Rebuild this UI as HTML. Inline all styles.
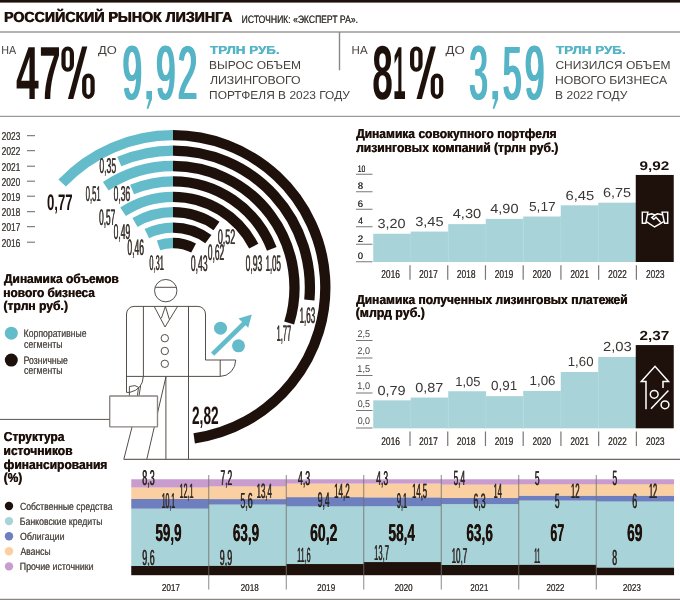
<!DOCTYPE html>
<html><head><meta charset="utf-8"><title>Российский рынок лизинга</title>
<style>
html,body{margin:0;padding:0;background:#fff;}
body{width:680px;height:600px;overflow:hidden;}
svg{display:block;will-change:transform;}
text{font-family:"Liberation Sans",sans-serif;text-rendering:geometricPrecision;}
</style></head><body>
<svg width="680" height="600" viewBox="0 0 680 600">
<rect width="680" height="600" fill="#fff"/>
<rect x="0.00" y="0.00" width="680.00" height="2.60" fill="#1e110b"/>
<line x1="0.00" y1="32.00" x2="680.00" y2="32.00" stroke="#9c9a98" stroke-width="1.30"/>
<line x1="0.00" y1="116.30" x2="680.00" y2="116.30" stroke="#9c9a98" stroke-width="1.30"/>
<line x1="339.50" y1="32.00" x2="339.50" y2="70.30" stroke="#8a8886" stroke-width="1.40"/>
<text transform="translate(3.78,22.40) scale(0.1417,0.1464)" font-size="100" fill="#1e110b" font-weight="bold">РОССИЙСКИЙ РЫНОК ЛИЗИНГА</text>
<text transform="translate(4.58,22.40) scale(0.1417,0.1464)" font-size="100" fill="#1e110b" font-weight="bold">РОССИЙСКИЙ РЫНОК ЛИЗИНГА</text>
<text transform="translate(241.61,22.80) scale(0.0858,0.1087)" font-size="100" fill="#3d3936">ИСТОЧНИК: «ЭКСПЕРТ РА».</text>
<text transform="translate(241.86,22.80) scale(0.0858,0.1087)" font-size="100" fill="#3d3936">ИСТОЧНИК: «ЭКСПЕРТ РА».</text>
<text transform="translate(1.14,54.00) scale(0.1073,0.1159)" font-size="100" fill="#45413e">НА</text>
<text transform="translate(15.99,98.90) scale(0.4093,0.7514)" font-size="100" fill="#1e110b" font-weight="bold">4</text>
<text transform="translate(39.16,98.90) scale(0.3853,0.7514)" font-size="100" fill="#1e110b" font-weight="bold">7</text>
<rect x="63.50" y="48.50" width="8.40" height="21.20" rx="4.2" ry="5.2" fill="none" stroke="#1e110b" stroke-width="4.20"/>
<rect x="84.20" y="75.60" width="8.40" height="21.20" rx="4.2" ry="5.2" fill="none" stroke="#1e110b" stroke-width="4.20"/>
<path d="M82.10,46.4 L87.30,46.4 L73.30,98.9 L67.90,98.9 Z" fill="#1e110b"/>
<text transform="translate(97.94,54.00) scale(0.1286,0.1159)" font-size="100" fill="#45413e">ДО</text>
<text transform="translate(121.85,99.30) scale(0.3441,0.7614)" font-size="100" fill="#55b4c6">9</text>
<text transform="translate(122.48,99.30) scale(0.3441,0.7614)" font-size="100" fill="#55b4c6">9</text>
<text transform="translate(123.12,99.30) scale(0.3441,0.7614)" font-size="100" fill="#55b4c6">9</text>
<text transform="translate(123.75,99.30) scale(0.3441,0.7614)" font-size="100" fill="#55b4c6">9</text>
<path d="M146.40,91 L152.00,91 L152.00,99.2 L148.40,108.8 L146.60,108.8 L149.10,99.2 L146.40,99.2 Z" fill="#55b4c6"/>
<text transform="translate(155.35,99.30) scale(0.3441,0.7614)" font-size="100" fill="#55b4c6">9</text>
<text transform="translate(155.98,99.30) scale(0.3441,0.7614)" font-size="100" fill="#55b4c6">9</text>
<text transform="translate(156.62,99.30) scale(0.3441,0.7614)" font-size="100" fill="#55b4c6">9</text>
<text transform="translate(157.25,99.30) scale(0.3441,0.7614)" font-size="100" fill="#55b4c6">9</text>
<text transform="translate(177.07,98.90) scale(0.3451,0.7557)" font-size="100" fill="#55b4c6">2</text>
<text transform="translate(177.71,98.90) scale(0.3451,0.7557)" font-size="100" fill="#55b4c6">2</text>
<text transform="translate(178.34,98.90) scale(0.3451,0.7557)" font-size="100" fill="#55b4c6">2</text>
<text transform="translate(178.97,98.90) scale(0.3451,0.7557)" font-size="100" fill="#55b4c6">2</text>
<text transform="translate(209.87,54.00) scale(0.1341,0.1159)" font-size="100" fill="#55b4c6" font-weight="bold">ТРЛН РУБ.</text>
<text transform="translate(210.37,54.00) scale(0.1341,0.1159)" font-size="100" fill="#55b4c6" font-weight="bold">ТРЛН РУБ.</text>
<text transform="translate(209.04,69.00) scale(0.1199,0.1159)" font-size="100" fill="#45413e">ВЫРОС ОБЪЕМ</text>
<text transform="translate(209.88,84.00) scale(0.1233,0.1159)" font-size="100" fill="#45413e">ЛИЗИНГОВОГО</text>
<text transform="translate(209.04,99.00) scale(0.1195,0.1159)" font-size="100" fill="#45413e">ПОРТФЕЛЯ В 2023 ГОДУ</text>
<text transform="translate(351.58,54.00) scale(0.1149,0.1159)" font-size="100" fill="#45413e">НА</text>
<text transform="translate(372.29,99.30) scale(0.3697,0.7614)" font-size="100" fill="#1e110b" font-weight="bold">8</text>
<text transform="translate(393.03,98.90) scale(0.2277,0.7514)" font-size="100" fill="#1e110b" font-weight="bold">1</text>
<rect x="412.10" y="48.50" width="8.40" height="21.20" rx="4.2" ry="5.2" fill="none" stroke="#1e110b" stroke-width="4.20"/>
<rect x="432.80" y="75.60" width="8.40" height="21.20" rx="4.2" ry="5.2" fill="none" stroke="#1e110b" stroke-width="4.20"/>
<path d="M430.70,46.4 L435.90,46.4 L421.90,98.9 L416.50,98.9 Z" fill="#1e110b"/>
<text transform="translate(445.43,54.00) scale(0.1321,0.1159)" font-size="100" fill="#45413e">ДО</text>
<text transform="translate(468.38,99.30) scale(0.3305,0.7614)" font-size="100" fill="#55b4c6">3</text>
<text transform="translate(469.01,99.30) scale(0.3305,0.7614)" font-size="100" fill="#55b4c6">3</text>
<text transform="translate(469.64,99.30) scale(0.3305,0.7614)" font-size="100" fill="#55b4c6">3</text>
<text transform="translate(470.28,99.30) scale(0.3305,0.7614)" font-size="100" fill="#55b4c6">3</text>
<path d="M492.40,91 L498.10,91 L498.10,99.2 L494.40,108.8 L492.60,108.8 L495.10,99.2 L492.40,99.2 Z" fill="#55b4c6"/>
<text transform="translate(502.07,99.30) scale(0.3326,0.7571)" font-size="100" fill="#55b4c6">5</text>
<text transform="translate(502.70,99.30) scale(0.3326,0.7571)" font-size="100" fill="#55b4c6">5</text>
<text transform="translate(503.34,99.30) scale(0.3326,0.7571)" font-size="100" fill="#55b4c6">5</text>
<text transform="translate(503.97,99.30) scale(0.3326,0.7571)" font-size="100" fill="#55b4c6">5</text>
<text transform="translate(524.04,99.30) scale(0.3462,0.7614)" font-size="100" fill="#55b4c6">9</text>
<text transform="translate(524.68,99.30) scale(0.3462,0.7614)" font-size="100" fill="#55b4c6">9</text>
<text transform="translate(525.31,99.30) scale(0.3462,0.7614)" font-size="100" fill="#55b4c6">9</text>
<text transform="translate(525.94,99.30) scale(0.3462,0.7614)" font-size="100" fill="#55b4c6">9</text>
<text transform="translate(555.87,54.00) scale(0.1341,0.1159)" font-size="100" fill="#55b4c6" font-weight="bold">ТРЛН РУБ.</text>
<text transform="translate(556.37,54.00) scale(0.1341,0.1159)" font-size="100" fill="#55b4c6" font-weight="bold">ТРЛН РУБ.</text>
<text transform="translate(555.40,69.00) scale(0.1204,0.1159)" font-size="100" fill="#45413e">СНИЗИЛСЯ ОБЪЕМ</text>
<text transform="translate(555.02,84.00) scale(0.1219,0.1159)" font-size="100" fill="#45413e">НОВОГО БИЗНЕСА</text>
<text transform="translate(555.04,99.00) scale(0.1205,0.1159)" font-size="100" fill="#45413e">В 2022 ГОДУ</text>
<path d="M173.00,243.00 A44.50,44.50 0 0 0 158.51,245.42" fill="none" stroke="#64bccb" stroke-width="10.30"/>
<path d="M173.00,243.00 A44.50,44.50 0 0 1 193.62,248.06" fill="none" stroke="#1e110b" stroke-width="10.30"/>
<path d="M173.00,227.60 A59.90,59.90 0 0 0 146.84,233.62" fill="none" stroke="#64bccb" stroke-width="10.30"/>
<path d="M173.00,227.60 A59.90,59.90 0 0 1 208.38,239.16" fill="none" stroke="#1e110b" stroke-width="10.30"/>
<path d="M173.00,212.20 A75.30,75.30 0 0 0 135.01,222.49" fill="none" stroke="#64bccb" stroke-width="10.30"/>
<path d="M173.00,212.20 A75.30,75.30 0 0 1 216.51,226.04" fill="none" stroke="#1e110b" stroke-width="10.30"/>
<path d="M173.00,196.80 A90.70,90.70 0 0 0 123.07,211.78" fill="none" stroke="#64bccb" stroke-width="10.30"/>
<path d="M173.00,196.80 A90.70,90.70 0 0 1 253.74,246.18" fill="none" stroke="#1e110b" stroke-width="10.30"/>
<path d="M173.00,181.40 A106.10,106.10 0 0 0 132.06,189.62" fill="none" stroke="#64bccb" stroke-width="10.30"/>
<path d="M173.00,181.40 A106.10,106.10 0 0 1 271.79,248.79" fill="none" stroke="#1e110b" stroke-width="10.30"/>
<path d="M173.00,166.00 A121.50,121.50 0 0 0 105.76,186.30" fill="none" stroke="#64bccb" stroke-width="10.30"/>
<path d="M173.00,166.00 A121.50,121.50 0 0 1 289.19,323.02" fill="none" stroke="#1e110b" stroke-width="10.30"/>
<path d="M173.00,150.60 A136.90,136.90 0 0 0 119.29,161.58" fill="none" stroke="#64bccb" stroke-width="10.30"/>
<path d="M173.00,150.60 A136.90,136.90 0 0 1 309.34,299.91" fill="none" stroke="#1e110b" stroke-width="10.30"/>
<path d="M173.00,135.20 A152.30,152.30 0 0 0 62.16,183.05" fill="none" stroke="#64bccb" stroke-width="10.30"/>
<path d="M173.00,135.20 A152.30,152.30 0 0 1 194.20,438.32" fill="none" stroke="#1e110b" stroke-width="10.30"/>
<text transform="translate(1.58,140.00) scale(0.0836,0.1143)" font-size="100" fill="#4a4541">2023</text>
<text transform="translate(1.73,140.00) scale(0.0836,0.1143)" font-size="100" fill="#4a4541">2023</text>
<line x1="27.00" y1="135.70" x2="35.00" y2="135.70" stroke="#666" stroke-width="1.00"/>
<text transform="translate(1.58,155.00) scale(0.0840,0.1143)" font-size="100" fill="#4a4541">2022</text>
<text transform="translate(1.73,155.00) scale(0.0840,0.1143)" font-size="100" fill="#4a4541">2022</text>
<line x1="27.00" y1="150.70" x2="35.00" y2="150.70" stroke="#666" stroke-width="1.00"/>
<text transform="translate(1.58,170.50) scale(0.0838,0.1143)" font-size="100" fill="#4a4541">2021</text>
<text transform="translate(1.73,170.50) scale(0.0838,0.1143)" font-size="100" fill="#4a4541">2021</text>
<line x1="27.00" y1="166.20" x2="35.00" y2="166.20" stroke="#666" stroke-width="1.00"/>
<text transform="translate(1.58,185.50) scale(0.0834,0.1143)" font-size="100" fill="#4a4541">2020</text>
<text transform="translate(1.73,185.50) scale(0.0834,0.1143)" font-size="100" fill="#4a4541">2020</text>
<line x1="27.00" y1="181.20" x2="35.00" y2="181.20" stroke="#666" stroke-width="1.00"/>
<text transform="translate(1.58,200.50) scale(0.0838,0.1143)" font-size="100" fill="#4a4541">2019</text>
<text transform="translate(1.73,200.50) scale(0.0838,0.1143)" font-size="100" fill="#4a4541">2019</text>
<line x1="27.00" y1="196.20" x2="35.00" y2="196.20" stroke="#666" stroke-width="1.00"/>
<text transform="translate(1.58,216.00) scale(0.0836,0.1143)" font-size="100" fill="#4a4541">2018</text>
<text transform="translate(1.73,216.00) scale(0.0836,0.1143)" font-size="100" fill="#4a4541">2018</text>
<line x1="27.00" y1="211.70" x2="35.00" y2="211.70" stroke="#666" stroke-width="1.00"/>
<text transform="translate(1.58,231.00) scale(0.0840,0.1143)" font-size="100" fill="#4a4541">2017</text>
<text transform="translate(1.73,231.00) scale(0.0840,0.1143)" font-size="100" fill="#4a4541">2017</text>
<line x1="27.00" y1="226.70" x2="35.00" y2="226.70" stroke="#666" stroke-width="1.00"/>
<text transform="translate(1.58,246.50) scale(0.0836,0.1143)" font-size="100" fill="#4a4541">2016</text>
<text transform="translate(1.73,246.50) scale(0.0836,0.1143)" font-size="100" fill="#4a4541">2016</text>
<line x1="27.00" y1="242.20" x2="35.00" y2="242.20" stroke="#666" stroke-width="1.00"/>
<text transform="translate(46.97,210.00) scale(0.1314,0.2250)" font-size="100" fill="#1e110b" font-weight="bold">0,77</text>
<text transform="translate(99.15,173.00) scale(0.0863,0.2136)" font-size="100" fill="#3e3631">0,35</text>
<text transform="translate(99.55,173.00) scale(0.0863,0.2136)" font-size="100" fill="#3e3631">0,35</text>
<text transform="translate(85.44,200.50) scale(0.0772,0.2136)" font-size="100" fill="#3e3631">0,51</text>
<text transform="translate(85.84,200.50) scale(0.0772,0.2136)" font-size="100" fill="#3e3631">0,51</text>
<text transform="translate(113.41,200.50) scale(0.0850,0.2136)" font-size="100" fill="#3e3631">0,36</text>
<text transform="translate(113.81,200.50) scale(0.0850,0.2136)" font-size="100" fill="#3e3631">0,36</text>
<text transform="translate(98.92,225.00) scale(0.0827,0.2243)" font-size="100" fill="#3e3631">0,57</text>
<text transform="translate(99.32,225.00) scale(0.0827,0.2243)" font-size="100" fill="#3e3631">0,57</text>
<text transform="translate(113.41,238.75) scale(0.0852,0.2136)" font-size="100" fill="#3e3631">0,49</text>
<text transform="translate(113.81,238.75) scale(0.0852,0.2136)" font-size="100" fill="#3e3631">0,49</text>
<text transform="translate(127.16,255.00) scale(0.0850,0.2243)" font-size="100" fill="#3e3631">0,46</text>
<text transform="translate(127.56,255.00) scale(0.0850,0.2243)" font-size="100" fill="#3e3631">0,46</text>
<text transform="translate(149.20,270.00) scale(0.0745,0.2100)" font-size="100" fill="#3e3631">0,31</text>
<text transform="translate(149.60,270.00) scale(0.0745,0.2100)" font-size="100" fill="#3e3631">0,31</text>
<text transform="translate(190.65,271.00) scale(0.0863,0.2243)" font-size="100" fill="#3e3631">0,43</text>
<text transform="translate(191.05,271.00) scale(0.0863,0.2243)" font-size="100" fill="#3e3631">0,43</text>
<text transform="translate(207.66,260.00) scale(0.0841,0.2243)" font-size="100" fill="#3e3631">0,62</text>
<text transform="translate(208.06,260.00) scale(0.0841,0.2243)" font-size="100" fill="#3e3631">0,62</text>
<text transform="translate(217.64,244.00) scale(0.0895,0.2100)" font-size="100" fill="#3e3631">0,52</text>
<text transform="translate(218.04,244.00) scale(0.0895,0.2100)" font-size="100" fill="#3e3631">0,52</text>
<text transform="translate(245.41,270.50) scale(0.0850,0.2243)" font-size="100" fill="#3e3631">0,93</text>
<text transform="translate(245.81,270.50) scale(0.0850,0.2243)" font-size="100" fill="#3e3631">0,93</text>
<text transform="translate(265.41,270.50) scale(0.0784,0.2243)" font-size="100" fill="#3e3631">1,05</text>
<text transform="translate(265.81,270.50) scale(0.0784,0.2243)" font-size="100" fill="#3e3631">1,05</text>
<text transform="translate(299.40,322.50) scale(0.0798,0.2243)" font-size="100" fill="#3e3631">1,63</text>
<text transform="translate(299.80,322.50) scale(0.0798,0.2243)" font-size="100" fill="#3e3631">1,63</text>
<text transform="translate(276.44,341.00) scale(0.0747,0.2243)" font-size="100" fill="#3e3631">1,77</text>
<text transform="translate(276.84,341.00) scale(0.0747,0.2243)" font-size="100" fill="#3e3631">1,77</text>
<text transform="translate(192.02,424.00) scale(0.1364,0.2500)" font-size="100" fill="#1e110b" font-weight="bold">2,82</text>
<text transform="translate(3.78,283.00) scale(0.1195,0.1290)" font-size="100" fill="#1e110b" font-weight="bold">Динамика объемов</text>
<text transform="translate(4.28,283.00) scale(0.1195,0.1290)" font-size="100" fill="#1e110b" font-weight="bold">Динамика объемов</text>
<text transform="translate(3.07,296.70) scale(0.1187,0.1290)" font-size="100" fill="#1e110b" font-weight="bold">нового бизнеса</text>
<text transform="translate(3.57,296.70) scale(0.1187,0.1290)" font-size="100" fill="#1e110b" font-weight="bold">нового бизнеса</text>
<text transform="translate(3.29,309.80) scale(0.1213,0.1290)" font-size="100" fill="#1e110b" font-weight="bold">(трлн руб.)</text>
<text transform="translate(3.79,309.80) scale(0.1213,0.1290)" font-size="100" fill="#1e110b" font-weight="bold">(трлн руб.)</text>
<circle cx="11.3" cy="333.2" r="6.5" fill="#64bccb"/>
<circle cx="11.3" cy="360.1" r="6.5" fill="#1e110b"/>
<text transform="translate(23.61,337.40) scale(0.0867,0.1101)" font-size="100" fill="#57524e">Корпоративные</text>
<text transform="translate(23.71,337.40) scale(0.0867,0.1101)" font-size="100" fill="#57524e">Корпоративные</text>
<text transform="translate(23.95,347.80) scale(0.0877,0.1101)" font-size="100" fill="#57524e">сегменты</text>
<text transform="translate(24.05,347.80) scale(0.0877,0.1101)" font-size="100" fill="#57524e">сегменты</text>
<text transform="translate(23.61,364.00) scale(0.0867,0.1101)" font-size="100" fill="#57524e">Розничные</text>
<text transform="translate(23.71,364.00) scale(0.0867,0.1101)" font-size="100" fill="#57524e">Розничные</text>
<text transform="translate(23.95,374.20) scale(0.0877,0.1101)" font-size="100" fill="#57524e">сегменты</text>
<text transform="translate(24.05,374.20) scale(0.0877,0.1101)" font-size="100" fill="#57524e">сегменты</text>
<g fill="none" stroke="#4d443e" stroke-width="0.95">
<path d="M165.9,377 L146.8,459.3"/>
<path d="M133.8,420 L123.8,459.3"/>
<path d="M165.9,376.4 L165.9,459.3"/>
<path d="M188.5,306.4 L188.5,459.3"/>
<circle cx="165.75" cy="290.65" r="11.2"/>
<path d="M155.2,287.3 L176.3,287.3"/>
<path d="M126.5,392.4 L126.5,314 A7.6,7.6 0 0 1 134.1,306.4 L197.9,306.4 A7.6,7.6 0 0 1 205.5,314 L205.5,360 L235.7,360 A15.5,16.4 0 0 1 220.2,376.4 L126.5,376.4"/>
<path d="M220.2,360 L220.2,376.4"/>
<path d="M143.4,306.4 L143.4,376.4"/>
<path d="M154.2,306.4 L165,327 L177.6,306.4"/>
<path d="M161.4,318.2 L165.4,306.4 L169.4,319.6"/>
<circle cx="164.8" cy="338.2" r="3.7"/>
<circle cx="164.8" cy="351.0" r="3.7"/>
<circle cx="164.8" cy="363.8" r="3.7"/>
<path d="M126.5,392.4 L129.7,392.4"/>
<path d="M143.3,376.4 Q142.8,389.5 129.7,392.4"/>
<path d="M129.4,396 L129.4,386.5 L134.9,385.6 L138.5,387.3 L137.4,396"/>
<path d="M140.6,386 L139,396"/>
</g>
<rect x="109.7" y="396" width="47.8" height="30.8" rx="0.6" fill="#fff" stroke="#8a8480" stroke-width="1.35"/>
<line x1="0.00" y1="419.40" x2="109.60" y2="419.40" stroke="#5a524d" stroke-width="1.00"/>
<line x1="123.80" y1="459.40" x2="680.00" y2="459.40" stroke="#6d6661" stroke-width="1.10"/>
<circle cx="220.5" cy="328.2" r="6.5" fill="#64bccb"/>
<circle cx="238.5" cy="345.8" r="6.5" fill="#64bccb"/>
<path d="M212.6,354.2 L245.5,322" stroke="#64bccb" stroke-width="4.6" fill="none"/>
<path d="M251.8,314.5 L238.5,318.5 L248.2,327.8 Z" fill="#64bccb"/>
<text transform="translate(355.88,138.20) scale(0.1203,0.1304)" font-size="100" fill="#1e110b" font-weight="bold">Динамика совокупного портфеля</text>
<text transform="translate(356.38,138.20) scale(0.1203,0.1304)" font-size="100" fill="#1e110b" font-weight="bold">Динамика совокупного портфеля</text>
<text transform="translate(355.88,151.50) scale(0.1212,0.1304)" font-size="100" fill="#1e110b" font-weight="bold">лизинговых компаний (трлн руб.)</text>
<text transform="translate(356.38,151.50) scale(0.1212,0.1304)" font-size="100" fill="#1e110b" font-weight="bold">лизинговых компаний (трлн руб.)</text>
<line x1="356.00" y1="174.25" x2="372.50" y2="174.25" stroke="#777" stroke-width="1.00"/>
<text transform="translate(357.68,171.75) scale(0.0690,0.0943)" font-size="100" fill="#3a3531">10</text>
<text transform="translate(357.78,171.75) scale(0.0690,0.0943)" font-size="100" fill="#3a3531">10</text>
<line x1="356.00" y1="191.75" x2="372.50" y2="191.75" stroke="#777" stroke-width="1.00"/>
<text transform="translate(357.78,189.25) scale(0.0936,0.0943)" font-size="100" fill="#3a3531">8</text>
<text transform="translate(357.88,189.25) scale(0.0936,0.0943)" font-size="100" fill="#3a3531">8</text>
<line x1="356.00" y1="209.25" x2="372.50" y2="209.25" stroke="#777" stroke-width="1.00"/>
<text transform="translate(357.73,206.75) scale(0.0946,0.0943)" font-size="100" fill="#3a3531">6</text>
<text transform="translate(357.83,206.75) scale(0.0946,0.0943)" font-size="100" fill="#3a3531">6</text>
<line x1="356.00" y1="226.75" x2="372.50" y2="226.75" stroke="#777" stroke-width="1.00"/>
<text transform="translate(358.03,224.25) scale(0.0871,0.0943)" font-size="100" fill="#3a3531">4</text>
<text transform="translate(358.13,224.25) scale(0.0871,0.0943)" font-size="100" fill="#3a3531">4</text>
<line x1="356.00" y1="244.25" x2="372.50" y2="244.25" stroke="#777" stroke-width="1.00"/>
<text transform="translate(357.72,241.75) scale(0.0967,0.0943)" font-size="100" fill="#3a3531">2</text>
<text transform="translate(357.82,241.75) scale(0.0967,0.0943)" font-size="100" fill="#3a3531">2</text>
<line x1="356.00" y1="261.75" x2="372.50" y2="261.75" stroke="#777" stroke-width="1.00"/>
<text transform="translate(357.83,259.25) scale(0.0917,0.0943)" font-size="100" fill="#3a3531">0</text>
<text transform="translate(357.93,259.25) scale(0.0917,0.0943)" font-size="100" fill="#3a3531">0</text>
<rect x="373.25" y="233.75" width="37.80" height="28.25" fill="#a8d3d8"/>
<text transform="translate(377.42,228.00) scale(0.1444,0.1321)" font-size="100" fill="#3a3734">3,20</text>
<text transform="translate(381.18,278.00) scale(0.0836,0.1143)" font-size="100" fill="#433e3a">2016</text>
<text transform="translate(381.33,278.00) scale(0.0836,0.1143)" font-size="100" fill="#433e3a">2016</text>
<rect x="410.75" y="231.56" width="37.80" height="30.44" fill="#a8d3d8"/>
<line x1="410.75" y1="233.75" x2="410.75" y2="262.00" stroke="#b6dadf" stroke-width="0.80"/>
<text transform="translate(415.17,225.81) scale(0.1461,0.1321)" font-size="100" fill="#3a3734">3,45</text>
<text transform="translate(419.00,278.00) scale(0.0840,0.1143)" font-size="100" fill="#433e3a">2017</text>
<text transform="translate(419.15,278.00) scale(0.0840,0.1143)" font-size="100" fill="#433e3a">2017</text>
<line x1="410.00" y1="265.30" x2="410.00" y2="279.80" stroke="#7d7773" stroke-width="1.20"/>
<rect x="448.25" y="224.12" width="37.80" height="37.88" fill="#a8d3d8"/>
<line x1="448.25" y1="231.56" x2="448.25" y2="262.00" stroke="#b6dadf" stroke-width="0.80"/>
<text transform="translate(452.71,218.38) scale(0.1468,0.1321)" font-size="100" fill="#3a3734">4,30</text>
<text transform="translate(456.82,278.00) scale(0.0836,0.1143)" font-size="100" fill="#433e3a">2018</text>
<text transform="translate(456.97,278.00) scale(0.0836,0.1143)" font-size="100" fill="#433e3a">2018</text>
<line x1="447.73" y1="265.30" x2="447.73" y2="279.80" stroke="#7d7773" stroke-width="1.20"/>
<rect x="485.75" y="218.88" width="37.80" height="43.12" fill="#a8d3d8"/>
<line x1="485.75" y1="224.12" x2="485.75" y2="262.00" stroke="#b6dadf" stroke-width="0.80"/>
<text transform="translate(490.21,213.12) scale(0.1455,0.1321)" font-size="100" fill="#3a3734">4,90</text>
<text transform="translate(494.64,278.00) scale(0.0838,0.1143)" font-size="100" fill="#433e3a">2019</text>
<text transform="translate(494.79,278.00) scale(0.0838,0.1143)" font-size="100" fill="#433e3a">2019</text>
<line x1="485.46" y1="265.30" x2="485.46" y2="279.80" stroke="#7d7773" stroke-width="1.20"/>
<rect x="523.25" y="216.51" width="37.80" height="45.49" fill="#a8d3d8"/>
<line x1="523.25" y1="218.88" x2="523.25" y2="262.00" stroke="#b6dadf" stroke-width="0.80"/>
<text transform="translate(528.95,210.76) scale(0.1375,0.1321)" font-size="100" fill="#3a3734">5,17</text>
<text transform="translate(532.46,278.00) scale(0.0834,0.1143)" font-size="100" fill="#433e3a">2020</text>
<text transform="translate(532.61,278.00) scale(0.0834,0.1143)" font-size="100" fill="#433e3a">2020</text>
<line x1="523.19" y1="265.30" x2="523.19" y2="279.80" stroke="#7d7773" stroke-width="1.20"/>
<rect x="560.75" y="205.31" width="37.80" height="56.69" fill="#a8d3d8"/>
<line x1="560.75" y1="216.51" x2="560.75" y2="262.00" stroke="#b6dadf" stroke-width="0.80"/>
<text transform="translate(565.51,199.56) scale(0.1482,0.1321)" font-size="100" fill="#3a3734">6,45</text>
<text transform="translate(570.28,278.00) scale(0.0838,0.1143)" font-size="100" fill="#433e3a">2021</text>
<text transform="translate(570.43,278.00) scale(0.0838,0.1143)" font-size="100" fill="#433e3a">2021</text>
<line x1="560.92" y1="265.30" x2="560.92" y2="279.80" stroke="#7d7773" stroke-width="1.20"/>
<rect x="598.25" y="202.69" width="37.80" height="59.31" fill="#a8d3d8"/>
<line x1="598.25" y1="205.31" x2="598.25" y2="262.00" stroke="#b6dadf" stroke-width="0.80"/>
<text transform="translate(603.03,196.94) scale(0.1442,0.1321)" font-size="100" fill="#3a3734">6,75</text>
<text transform="translate(608.10,278.00) scale(0.0840,0.1143)" font-size="100" fill="#433e3a">2022</text>
<text transform="translate(608.25,278.00) scale(0.0840,0.1143)" font-size="100" fill="#433e3a">2022</text>
<line x1="598.65" y1="265.30" x2="598.65" y2="279.80" stroke="#7d7773" stroke-width="1.20"/>
<rect x="635.75" y="174.95" width="38.00" height="87.05" fill="#1e110b"/>
<text transform="translate(639.46,170.00) scale(0.1537,0.1250)" font-size="100" fill="#1e110b" font-weight="bold">9,92</text>
<text transform="translate(645.92,278.00) scale(0.0836,0.1143)" font-size="100" fill="#433e3a">2023</text>
<text transform="translate(646.07,278.00) scale(0.0836,0.1143)" font-size="100" fill="#433e3a">2023</text>
<line x1="636.38" y1="265.30" x2="636.38" y2="279.80" stroke="#7d7773" stroke-width="1.20"/>
<g fill="none" stroke="#fff" stroke-width="1.45" stroke-linejoin="miter">
<path d="M642.3,212.1 L647.9,212.1 L645.8,223.3 L642.3,223.3 Z"/>
<path d="M662.1,212.1 L667.7,212.1 L667.7,223.3 L664.6,223.3 Z"/>
<path d="M648,214.8 L651.5,213.8 L655,215 L657.5,213.8 L662.3,214.8"/>
<path d="M646.3,221.6 L654.6,227 L663.8,221.6"/>
<path d="M655,215 L651.8,217.6 L653.8,219.2 L656,217.2 L660.8,222.6"/>
</g>
<text transform="translate(355.88,304.20) scale(0.1204,0.1319)" font-size="100" fill="#1e110b" font-weight="bold">Динамика полученных лизинговых платежей</text>
<text transform="translate(356.38,304.20) scale(0.1204,0.1319)" font-size="100" fill="#1e110b" font-weight="bold">Динамика полученных лизинговых платежей</text>
<text transform="translate(355.38,317.40) scale(0.1239,0.1319)" font-size="100" fill="#1e110b" font-weight="bold">(млрд руб.)</text>
<text transform="translate(355.88,317.40) scale(0.1239,0.1319)" font-size="100" fill="#1e110b" font-weight="bold">(млрд руб.)</text>
<line x1="356.00" y1="340.50" x2="372.50" y2="340.50" stroke="#777" stroke-width="1.00"/>
<text transform="translate(357.55,336.90) scale(0.0900,0.0971)" font-size="100" fill="#45403c">2,5</text>
<line x1="356.00" y1="358.00" x2="372.50" y2="358.00" stroke="#777" stroke-width="1.00"/>
<text transform="translate(357.55,354.40) scale(0.0897,0.0971)" font-size="100" fill="#45403c">2,0</text>
<line x1="356.00" y1="375.50" x2="372.50" y2="375.50" stroke="#777" stroke-width="1.00"/>
<text transform="translate(357.31,371.90) scale(0.0918,0.0971)" font-size="100" fill="#45403c">1,5</text>
<line x1="356.00" y1="393.00" x2="372.50" y2="393.00" stroke="#777" stroke-width="1.00"/>
<text transform="translate(357.31,389.40) scale(0.0914,0.0971)" font-size="100" fill="#45403c">1,0</text>
<line x1="356.00" y1="410.50" x2="372.50" y2="410.50" stroke="#777" stroke-width="1.00"/>
<text transform="translate(357.64,406.90) scale(0.0893,0.0971)" font-size="100" fill="#45403c">0,5</text>
<line x1="356.00" y1="428.00" x2="372.50" y2="428.00" stroke="#777" stroke-width="1.00"/>
<text transform="translate(357.64,424.40) scale(0.0890,0.0971)" font-size="100" fill="#45403c">0,0</text>
<rect x="373.25" y="400.35" width="37.80" height="27.95" fill="#a8d3d8"/>
<text transform="translate(377.42,394.60) scale(0.1452,0.1321)" font-size="100" fill="#3a3734">0,79</text>
<text transform="translate(381.18,444.80) scale(0.0836,0.1114)" font-size="100" fill="#433e3a">2016</text>
<text transform="translate(381.33,444.80) scale(0.0836,0.1114)" font-size="100" fill="#433e3a">2016</text>
<rect x="410.75" y="397.55" width="37.80" height="30.75" fill="#a8d3d8"/>
<line x1="410.75" y1="400.35" x2="410.75" y2="428.30" stroke="#b6dadf" stroke-width="0.80"/>
<text transform="translate(415.17,391.80) scale(0.1442,0.1321)" font-size="100" fill="#3a3734">0,87</text>
<text transform="translate(419.00,444.80) scale(0.0840,0.1114)" font-size="100" fill="#433e3a">2017</text>
<text transform="translate(419.15,444.80) scale(0.0840,0.1114)" font-size="100" fill="#433e3a">2017</text>
<line x1="410.00" y1="431.50" x2="410.00" y2="446.00" stroke="#7d7773" stroke-width="1.20"/>
<rect x="448.25" y="391.25" width="37.80" height="37.05" fill="#a8d3d8"/>
<line x1="448.25" y1="397.55" x2="448.25" y2="428.30" stroke="#b6dadf" stroke-width="0.80"/>
<text transform="translate(455.28,385.50) scale(0.1298,0.1321)" font-size="100" fill="#3a3734">1,05</text>
<text transform="translate(456.82,444.80) scale(0.0836,0.1114)" font-size="100" fill="#433e3a">2018</text>
<text transform="translate(456.97,444.80) scale(0.0836,0.1114)" font-size="100" fill="#433e3a">2018</text>
<line x1="447.73" y1="431.50" x2="447.73" y2="446.00" stroke="#7d7773" stroke-width="1.20"/>
<rect x="485.75" y="396.15" width="37.80" height="32.15" fill="#a8d3d8"/>
<line x1="485.75" y1="396.15" x2="485.75" y2="428.30" stroke="#b6dadf" stroke-width="0.80"/>
<text transform="translate(490.96,390.40) scale(0.1344,0.1321)" font-size="100" fill="#3a3734">0,91</text>
<text transform="translate(494.64,444.80) scale(0.0838,0.1114)" font-size="100" fill="#433e3a">2019</text>
<text transform="translate(494.79,444.80) scale(0.0838,0.1114)" font-size="100" fill="#433e3a">2019</text>
<line x1="485.46" y1="431.50" x2="485.46" y2="446.00" stroke="#7d7773" stroke-width="1.20"/>
<rect x="523.25" y="390.90" width="37.80" height="37.40" fill="#a8d3d8"/>
<line x1="523.25" y1="396.15" x2="523.25" y2="428.30" stroke="#b6dadf" stroke-width="0.80"/>
<text transform="translate(529.50,385.15) scale(0.1339,0.1321)" font-size="100" fill="#3a3734">1,06</text>
<text transform="translate(532.46,444.80) scale(0.0834,0.1114)" font-size="100" fill="#433e3a">2020</text>
<text transform="translate(532.61,444.80) scale(0.0834,0.1114)" font-size="100" fill="#433e3a">2020</text>
<line x1="523.19" y1="431.50" x2="523.19" y2="446.00" stroke="#7d7773" stroke-width="1.20"/>
<rect x="560.75" y="372.00" width="37.80" height="56.30" fill="#a8d3d8"/>
<line x1="560.75" y1="390.90" x2="560.75" y2="428.30" stroke="#b6dadf" stroke-width="0.80"/>
<text transform="translate(567.76,366.25) scale(0.1322,0.1321)" font-size="100" fill="#3a3734">1,60</text>
<text transform="translate(570.28,444.80) scale(0.0838,0.1114)" font-size="100" fill="#433e3a">2021</text>
<text transform="translate(570.43,444.80) scale(0.0838,0.1114)" font-size="100" fill="#433e3a">2021</text>
<line x1="560.92" y1="431.50" x2="560.92" y2="446.00" stroke="#7d7773" stroke-width="1.20"/>
<rect x="598.25" y="356.95" width="37.80" height="71.35" fill="#a8d3d8"/>
<line x1="598.25" y1="372.00" x2="598.25" y2="428.30" stroke="#b6dadf" stroke-width="0.80"/>
<text transform="translate(603.01,351.20) scale(0.1482,0.1321)" font-size="100" fill="#3a3734">2,03</text>
<text transform="translate(608.10,444.80) scale(0.0840,0.1114)" font-size="100" fill="#433e3a">2022</text>
<text transform="translate(608.25,444.80) scale(0.0840,0.1114)" font-size="100" fill="#433e3a">2022</text>
<line x1="598.65" y1="431.50" x2="598.65" y2="446.00" stroke="#7d7773" stroke-width="1.20"/>
<rect x="635.75" y="345.05" width="38.00" height="83.25" fill="#1e110b"/>
<text transform="translate(639.46,340.00) scale(0.1537,0.1321)" font-size="100" fill="#1e110b" font-weight="bold">2,37</text>
<text transform="translate(645.92,444.80) scale(0.0836,0.1114)" font-size="100" fill="#433e3a">2023</text>
<text transform="translate(646.07,444.80) scale(0.0836,0.1114)" font-size="100" fill="#433e3a">2023</text>
<line x1="636.38" y1="431.50" x2="636.38" y2="446.00" stroke="#7d7773" stroke-width="1.20"/>
<g fill="none" stroke="#fff" stroke-width="1.5" stroke-linejoin="miter">
<path d="M646,409.2 L646,381.6 L641.3,381.6 L655,366.3 L668.5,381.6 L663,381.6 L663,388"/>
<circle cx="654.2" cy="394.3" r="3.9"/>
<circle cx="665" cy="404.8" r="3.9"/>
<path d="M668.4,390.4 L651,408.8"/>
</g>
<text transform="translate(3.62,441.40) scale(0.1188,0.1304)" font-size="100" fill="#1e110b" font-weight="bold">Структура</text>
<text transform="translate(4.12,441.40) scale(0.1188,0.1304)" font-size="100" fill="#1e110b" font-weight="bold">Структура</text>
<text transform="translate(3.26,455.10) scale(0.1201,0.1304)" font-size="100" fill="#1e110b" font-weight="bold">источников</text>
<text transform="translate(3.76,455.10) scale(0.1201,0.1304)" font-size="100" fill="#1e110b" font-weight="bold">источников</text>
<text transform="translate(3.62,468.90) scale(0.1202,0.1304)" font-size="100" fill="#1e110b" font-weight="bold">финансирования</text>
<text transform="translate(4.12,468.90) scale(0.1202,0.1304)" font-size="100" fill="#1e110b" font-weight="bold">финансирования</text>
<text transform="translate(3.51,482.20) scale(0.1182,0.1304)" font-size="100" fill="#1e110b" font-weight="bold">(%)</text>
<text transform="translate(4.01,482.20) scale(0.1182,0.1304)" font-size="100" fill="#1e110b" font-weight="bold">(%)</text>
<circle cx="9" cy="506.0" r="4.2" fill="#1e110b"/>
<text transform="translate(19.97,509.60) scale(0.0861,0.1058)" font-size="100" fill="#57524e">Собственные средства</text>
<text transform="translate(20.07,509.60) scale(0.0861,0.1058)" font-size="100" fill="#57524e">Собственные средства</text>
<circle cx="9" cy="521.1" r="4.2" fill="#a8d3d8"/>
<text transform="translate(19.70,524.70) scale(0.0874,0.1058)" font-size="100" fill="#57524e">Банковские кредиты</text>
<text transform="translate(19.80,524.70) scale(0.0874,0.1058)" font-size="100" fill="#57524e">Банковские кредиты</text>
<circle cx="9" cy="536.2" r="4.2" fill="#6e7fbf"/>
<text transform="translate(20.00,539.80) scale(0.0883,0.1058)" font-size="100" fill="#57524e">Облигации</text>
<text transform="translate(20.10,539.80) scale(0.0883,0.1058)" font-size="100" fill="#57524e">Облигации</text>
<circle cx="9" cy="551.3" r="4.2" fill="#fad0a2"/>
<text transform="translate(20.40,554.90) scale(0.0856,0.1058)" font-size="100" fill="#57524e">Авансы</text>
<text transform="translate(20.50,554.90) scale(0.0856,0.1058)" font-size="100" fill="#57524e">Авансы</text>
<circle cx="9" cy="566.4" r="4.2" fill="#c99ccf"/>
<text transform="translate(19.70,570.00) scale(0.0880,0.1058)" font-size="100" fill="#57524e">Прочие источники</text>
<text transform="translate(19.80,570.00) scale(0.0880,0.1058)" font-size="100" fill="#57524e">Прочие источники</text>
<rect x="131.25" y="565.81" width="77.80" height="9.39" fill="#1e110b"/>
<rect x="131.25" y="508.45" width="77.80" height="57.55" fill="#a8d3d8"/>
<rect x="131.25" y="498.78" width="77.80" height="9.87" fill="#6e7fbf"/>
<rect x="131.25" y="487.20" width="77.80" height="11.79" fill="#fad0a2"/>
<rect x="131.25" y="479.25" width="77.80" height="8.15" fill="#c99ccf"/>
<rect x="208.75" y="565.52" width="77.80" height="9.68" fill="#1e110b"/>
<rect x="208.75" y="504.34" width="77.80" height="61.38" fill="#a8d3d8"/>
<rect x="208.75" y="498.97" width="77.80" height="5.56" fill="#6e7fbf"/>
<rect x="208.75" y="486.14" width="77.80" height="13.03" fill="#fad0a2"/>
<rect x="208.75" y="479.25" width="77.80" height="7.09" fill="#c99ccf"/>
<rect x="286.25" y="563.86" width="77.80" height="11.34" fill="#1e110b"/>
<rect x="286.25" y="506.04" width="77.80" height="58.01" fill="#a8d3d8"/>
<rect x="286.25" y="497.02" width="77.80" height="9.23" fill="#6e7fbf"/>
<rect x="286.25" y="483.38" width="77.80" height="13.84" fill="#fad0a2"/>
<rect x="286.25" y="479.25" width="77.80" height="4.33" fill="#c99ccf"/>
<rect x="363.75" y="561.88" width="77.80" height="13.32" fill="#1e110b"/>
<rect x="363.75" y="505.96" width="77.80" height="56.12" fill="#a8d3d8"/>
<rect x="363.75" y="497.25" width="77.80" height="8.91" fill="#6e7fbf"/>
<rect x="363.75" y="483.37" width="77.80" height="14.08" fill="#fad0a2"/>
<rect x="363.75" y="479.25" width="77.80" height="4.32" fill="#c99ccf"/>
<rect x="441.25" y="564.75" width="77.80" height="10.45" fill="#1e110b"/>
<rect x="441.25" y="503.86" width="77.80" height="61.10" fill="#a8d3d8"/>
<rect x="441.25" y="497.83" width="77.80" height="6.23" fill="#6e7fbf"/>
<rect x="441.25" y="484.42" width="77.80" height="13.60" fill="#fad0a2"/>
<rect x="441.25" y="479.25" width="77.80" height="5.37" fill="#c99ccf"/>
<rect x="518.75" y="564.47" width="77.80" height="10.73" fill="#1e110b"/>
<rect x="518.75" y="500.31" width="77.80" height="64.35" fill="#a8d3d8"/>
<rect x="518.75" y="495.53" width="77.80" height="4.99" fill="#6e7fbf"/>
<rect x="518.75" y="484.04" width="77.80" height="11.69" fill="#fad0a2"/>
<rect x="518.75" y="479.25" width="77.80" height="4.99" fill="#c99ccf"/>
<rect x="596.25" y="567.34" width="77.80" height="7.86" fill="#1e110b"/>
<rect x="596.25" y="501.27" width="77.80" height="66.27" fill="#a8d3d8"/>
<rect x="596.25" y="495.53" width="77.80" height="5.95" fill="#6e7fbf"/>
<rect x="596.25" y="484.04" width="77.80" height="11.69" fill="#fad0a2"/>
<rect x="596.25" y="479.25" width="77.80" height="4.99" fill="#c99ccf"/>
<line x1="208.75" y1="475.00" x2="208.75" y2="589.50" stroke="#6f6a66" stroke-width="0.80"/>
<line x1="286.25" y1="475.00" x2="286.25" y2="589.50" stroke="#6f6a66" stroke-width="0.80"/>
<line x1="363.75" y1="475.00" x2="363.75" y2="589.50" stroke="#6f6a66" stroke-width="0.80"/>
<line x1="441.25" y1="475.00" x2="441.25" y2="589.50" stroke="#6f6a66" stroke-width="0.80"/>
<line x1="518.75" y1="475.00" x2="518.75" y2="589.50" stroke="#6f6a66" stroke-width="0.80"/>
<line x1="596.25" y1="475.00" x2="596.25" y2="589.50" stroke="#6f6a66" stroke-width="0.80"/>
<text transform="translate(142.10,564.50) scale(0.0889,0.2186)" font-size="100" fill="#2e2824">9,6</text>
<text transform="translate(142.50,564.50) scale(0.0889,0.2186)" font-size="100" fill="#2e2824">9,6</text>
<text transform="translate(155.35,541.25) scale(0.1340,0.2436)" font-size="100" fill="#1e110b" font-weight="bold">59,9</text>
<text transform="translate(155.65,541.25) scale(0.1340,0.2436)" font-size="100" fill="#1e110b" font-weight="bold">59,9</text>
<text transform="translate(161.48,508.00) scale(0.0690,0.2150)" font-size="100" fill="#2e2824">10,1</text>
<text transform="translate(161.88,508.00) scale(0.0690,0.2150)" font-size="100" fill="#2e2824">10,1</text>
<text transform="translate(179.47,497.50) scale(0.0704,0.2079)" font-size="100" fill="#2e2824">12,1</text>
<text transform="translate(179.87,497.50) scale(0.0704,0.2079)" font-size="100" fill="#2e2824">12,1</text>
<text transform="translate(142.10,485.00) scale(0.0889,0.2150)" font-size="100" fill="#2e2824">8,3</text>
<text transform="translate(142.50,485.00) scale(0.0889,0.2150)" font-size="100" fill="#2e2824">8,3</text>
<text transform="translate(161.74,591.25) scale(0.0816,0.1000)" font-size="100" fill="#433e3a">2017</text>
<text transform="translate(161.89,591.25) scale(0.0816,0.1000)" font-size="100" fill="#433e3a">2017</text>
<text transform="translate(219.60,564.50) scale(0.0892,0.2186)" font-size="100" fill="#2e2824">9,9</text>
<text transform="translate(220.00,564.50) scale(0.0892,0.2186)" font-size="100" fill="#2e2824">9,9</text>
<text transform="translate(232.78,541.25) scale(0.1344,0.2436)" font-size="100" fill="#1e110b" font-weight="bold">63,9</text>
<text transform="translate(233.08,541.25) scale(0.1344,0.2436)" font-size="100" fill="#1e110b" font-weight="bold">63,9</text>
<text transform="translate(240.15,507.50) scale(0.0885,0.2186)" font-size="100" fill="#2e2824">5,6</text>
<text transform="translate(240.55,507.50) scale(0.0885,0.2186)" font-size="100" fill="#2e2824">5,6</text>
<text transform="translate(256.42,497.50) scale(0.0780,0.2079)" font-size="100" fill="#2e2824">13,4</text>
<text transform="translate(256.82,497.50) scale(0.0780,0.2079)" font-size="100" fill="#2e2824">13,4</text>
<text transform="translate(220.33,485.00) scale(0.0841,0.2150)" font-size="100" fill="#2e2824">7,2</text>
<text transform="translate(220.73,485.00) scale(0.0841,0.2150)" font-size="100" fill="#2e2824">7,2</text>
<text transform="translate(240.59,591.25) scale(0.0813,0.1000)" font-size="100" fill="#433e3a">2018</text>
<text transform="translate(240.74,591.25) scale(0.0813,0.1000)" font-size="100" fill="#433e3a">2018</text>
<text transform="translate(296.96,561.75) scale(0.0718,0.2079)" font-size="100" fill="#2e2824">11,6</text>
<text transform="translate(297.36,561.75) scale(0.0718,0.2079)" font-size="100" fill="#2e2824">11,6</text>
<text transform="translate(310.01,541.25) scale(0.1401,0.2436)" font-size="100" fill="#1e110b" font-weight="bold">60,2</text>
<text transform="translate(310.31,541.25) scale(0.1401,0.2436)" font-size="100" fill="#1e110b" font-weight="bold">60,2</text>
<text transform="translate(317.62,507.00) scale(0.0844,0.2114)" font-size="100" fill="#2e2824">9,4</text>
<text transform="translate(318.02,507.00) scale(0.0844,0.2114)" font-size="100" fill="#2e2824">9,4</text>
<text transform="translate(333.90,497.50) scale(0.0802,0.2079)" font-size="100" fill="#2e2824">14,2</text>
<text transform="translate(334.30,497.50) scale(0.0802,0.2079)" font-size="100" fill="#2e2824">14,2</text>
<text transform="translate(297.83,484.50) scale(0.0872,0.2007)" font-size="100" fill="#2e2824">4,3</text>
<text transform="translate(298.23,484.50) scale(0.0872,0.2007)" font-size="100" fill="#2e2824">4,3</text>
<text transform="translate(317.04,591.25) scale(0.0815,0.1000)" font-size="100" fill="#433e3a">2019</text>
<text transform="translate(317.19,591.25) scale(0.0815,0.1000)" font-size="100" fill="#433e3a">2019</text>
<text transform="translate(373.93,560.00) scale(0.0761,0.2150)" font-size="100" fill="#2e2824">13,7</text>
<text transform="translate(374.33,560.00) scale(0.0761,0.2150)" font-size="100" fill="#2e2824">13,7</text>
<text transform="translate(388.34,541.25) scale(0.1359,0.2436)" font-size="100" fill="#1e110b" font-weight="bold">58,4</text>
<text transform="translate(388.64,541.25) scale(0.1359,0.2436)" font-size="100" fill="#1e110b" font-weight="bold">58,4</text>
<text transform="translate(396.67,508.00) scale(0.0738,0.2150)" font-size="100" fill="#2e2824">9,1</text>
<text transform="translate(397.07,508.00) scale(0.0738,0.2150)" font-size="100" fill="#2e2824">9,1</text>
<text transform="translate(411.92,497.50) scale(0.0770,0.2079)" font-size="100" fill="#2e2824">14,5</text>
<text transform="translate(412.32,497.50) scale(0.0770,0.2079)" font-size="100" fill="#2e2824">14,5</text>
<text transform="translate(376.08,484.50) scale(0.0853,0.2007)" font-size="100" fill="#2e2824">4,3</text>
<text transform="translate(376.48,484.50) scale(0.0853,0.2007)" font-size="100" fill="#2e2824">4,3</text>
<text transform="translate(394.59,591.25) scale(0.0811,0.1000)" font-size="100" fill="#433e3a">2020</text>
<text transform="translate(394.74,591.25) scale(0.0811,0.1000)" font-size="100" fill="#433e3a">2020</text>
<text transform="translate(451.40,562.50) scale(0.0802,0.2150)" font-size="100" fill="#2e2824">10,7</text>
<text transform="translate(451.80,562.50) scale(0.0802,0.2150)" font-size="100" fill="#2e2824">10,7</text>
<text transform="translate(466.27,541.25) scale(0.1357,0.2436)" font-size="100" fill="#1e110b" font-weight="bold">63,6</text>
<text transform="translate(466.57,541.25) scale(0.1357,0.2436)" font-size="100" fill="#1e110b" font-weight="bold">63,6</text>
<text transform="translate(473.31,507.50) scale(0.0873,0.2079)" font-size="100" fill="#2e2824">6,3</text>
<text transform="translate(473.71,507.50) scale(0.0873,0.2079)" font-size="100" fill="#2e2824">6,3</text>
<text transform="translate(493.45,497.50) scale(0.0736,0.2079)" font-size="100" fill="#2e2824">14</text>
<text transform="translate(493.85,497.50) scale(0.0736,0.2079)" font-size="100" fill="#2e2824">14</text>
<text transform="translate(453.42,485.00) scale(0.0822,0.2079)" font-size="100" fill="#2e2824">5,4</text>
<text transform="translate(453.82,485.00) scale(0.0822,0.2079)" font-size="100" fill="#2e2824">5,4</text>
<text transform="translate(470.14,591.25) scale(0.0815,0.1000)" font-size="100" fill="#433e3a">2021</text>
<text transform="translate(470.29,591.25) scale(0.0815,0.1000)" font-size="100" fill="#433e3a">2021</text>
<text transform="translate(534.08,562.50) scale(0.0557,0.2150)" font-size="100" fill="#2e2824">11</text>
<text transform="translate(534.48,562.50) scale(0.0557,0.2150)" font-size="100" fill="#2e2824">11</text>
<text transform="translate(550.32,541.25) scale(0.1227,0.2436)" font-size="100" fill="#1e110b" font-weight="bold">67</text>
<text transform="translate(550.62,541.25) scale(0.1227,0.2436)" font-size="100" fill="#1e110b" font-weight="bold">67</text>
<text transform="translate(554.65,507.50) scale(0.0863,0.2079)" font-size="100" fill="#2e2824">5</text>
<text transform="translate(555.05,507.50) scale(0.0863,0.2079)" font-size="100" fill="#2e2824">5</text>
<text transform="translate(570.71,497.50) scale(0.0782,0.2079)" font-size="100" fill="#2e2824">12</text>
<text transform="translate(571.11,497.50) scale(0.0782,0.2079)" font-size="100" fill="#2e2824">12</text>
<text transform="translate(534.65,484.50) scale(0.0863,0.2007)" font-size="100" fill="#2e2824">5</text>
<text transform="translate(535.05,484.50) scale(0.0863,0.2007)" font-size="100" fill="#2e2824">5</text>
<text transform="translate(546.24,591.25) scale(0.0816,0.1000)" font-size="100" fill="#433e3a">2022</text>
<text transform="translate(546.39,591.25) scale(0.0816,0.1000)" font-size="100" fill="#433e3a">2022</text>
<text transform="translate(612.11,564.50) scale(0.0872,0.2186)" font-size="100" fill="#2e2824">8</text>
<text transform="translate(612.51,564.50) scale(0.0872,0.2186)" font-size="100" fill="#2e2824">8</text>
<text transform="translate(627.02,541.25) scale(0.1365,0.2436)" font-size="100" fill="#1e110b" font-weight="bold">69</text>
<text transform="translate(627.32,541.25) scale(0.1365,0.2436)" font-size="100" fill="#1e110b" font-weight="bold">69</text>
<text transform="translate(632.06,507.50) scale(0.0882,0.2079)" font-size="100" fill="#2e2824">6</text>
<text transform="translate(632.46,507.50) scale(0.0882,0.2079)" font-size="100" fill="#2e2824">6</text>
<text transform="translate(648.74,497.50) scale(0.0741,0.2079)" font-size="100" fill="#2e2824">12</text>
<text transform="translate(649.14,497.50) scale(0.0741,0.2079)" font-size="100" fill="#2e2824">12</text>
<text transform="translate(612.15,485.00) scale(0.0863,0.2079)" font-size="100" fill="#2e2824">5</text>
<text transform="translate(612.55,485.00) scale(0.0863,0.2079)" font-size="100" fill="#2e2824">5</text>
<text transform="translate(622.74,591.25) scale(0.0813,0.1000)" font-size="100" fill="#433e3a">2023</text>
<text transform="translate(622.89,591.25) scale(0.0813,0.1000)" font-size="100" fill="#433e3a">2023</text>
<line x1="0.00" y1="599.30" x2="680.00" y2="599.30" stroke="#8a8683" stroke-width="1.30"/>
</svg>
</body></html>
